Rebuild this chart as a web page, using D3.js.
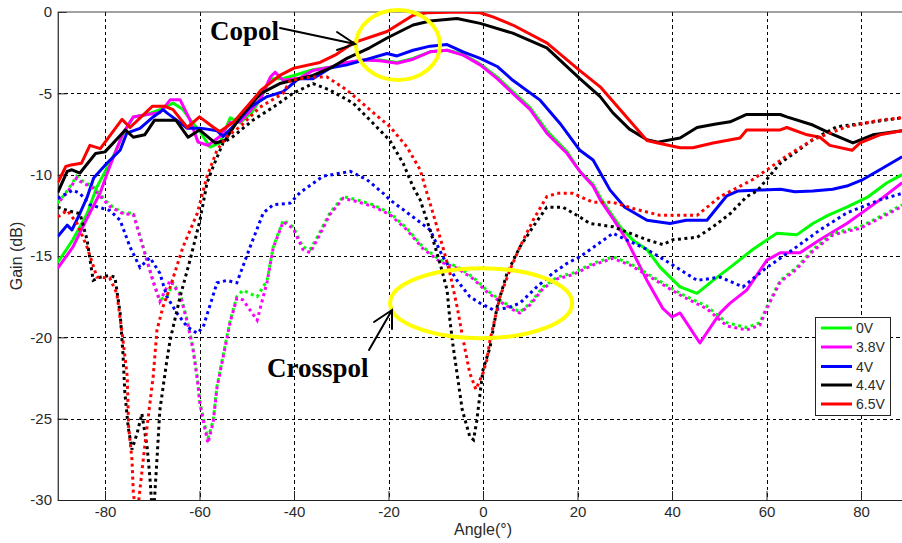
<!DOCTYPE html>
<html><head><meta charset="utf-8">
<script src="https://cdn.jsdelivr.net/npm/d3@7/dist/d3.min.js"></script>
<style>body{margin:0;background:#fff;} svg{display:block;}</style>
</head><body><svg id="c" width="902" height="543"></svg>
<script>
const xTicks = [-80,-60,-40,-20,0,20,40,60,80];
const yTicks = [0,-5,-10,-15,-20,-25,-30];
const seriesNames = ["0V","3.8V","4V","4.4V","6.5V"];
const seriesColors = ["#00ff00","#ff00ff","#0000ff","#000000","#ff0000"];

// Copol (solid) [angle, gain]
const copol0V = [[-90,-15.4],[-86.8,-14],[-83.8,-12.4],[-81.7,-10.75],[-78.3,-8.9],[-76,-7.4],[-74,-6.45],[-71.1,-6.3],[-68.4,-6],[-65.6,-5.6],[-63.5,-6],[-61.5,-6.8],[-59.9,-7.35],[-57.8,-8.3],[-55.7,-8.05],[-53.5,-6.5],[-51.4,-6.8],[-49,-6.2],[-47,-5.3],[-45,-4.1],[-42.5,-4.1],[-40,-3.9],[-36,-3.55],[-32.4,-3.4],[-28.8,-3.15],[-25.4,-2.95],[-21.8,-2.95],[-18.2,-3.1],[-14.8,-2.85],[-11.2,-2.45],[-7.6,-2.35],[-4.2,-2.6],[-0.6,-3.2],[3,-4],[6.3,-4.9],[10,-5.9],[13.5,-7.3],[17.8,-8.6],[20.5,-9.8],[23.3,-10.6],[25,-11.5],[29,-13.2],[32,-14.1],[34.7,-14.6],[37.5,-15.7],[41.7,-16.9],[45.3,-17.3],[48.7,-16.5],[52.3,-15.7],[57.1,-14.6],[62.2,-13.6],[66.4,-13.7],[69.8,-13],[73,-12.5],[77,-12],[81.3,-11.4],[85.5,-10.5],[88.7,-10]];
const copol38V = [[-90,-15.75],[-86.8,-14.45],[-84,-12.8],[-81,-11.1],[-79,-9.5],[-76.2,-7.45],[-74,-6.45],[-71.1,-6.3],[-68.4,-6.2],[-66.2,-5.4],[-64.1,-5.4],[-62,-6.65],[-60.3,-8],[-58.2,-8.2],[-55.7,-7.65],[-53.5,-6.8],[-51.4,-6.75],[-47.2,-5.4],[-45,-4],[-44,-3.7],[-42.3,-4.2],[-38.7,-4.05],[-36,-3.6],[-32.4,-3.4],[-28.8,-3.1],[-25.4,-2.95],[-21.8,-3.0],[-18.2,-3.15],[-14.8,-2.9],[-11.2,-2.45],[-7.6,-2.35],[-4.2,-2.65],[-0.6,-3.25],[3,-4.1],[6.3,-5],[10,-6],[13.5,-7.45],[17.8,-8.7],[20.5,-9.8],[23.3,-10.7],[24.8,-11.55],[27.5,-12.7],[30.4,-14],[34.7,-16.5],[38,-18.2],[40,-18.75],[41.7,-18.5],[45.9,-20.35],[50.2,-18.5],[52.3,-17.9],[55.8,-17.1],[60.1,-15.25],[62.9,-14.8],[67.1,-14.8],[71.3,-14],[77,-13],[84,-11.55],[88.7,-10.5]];
const copol4V = [[-90,-13.8],[-88,-13.1],[-87,-13.4],[-85.5,-12.5],[-83.8,-11.4],[-82.4,-10.2],[-79.6,-9.3],[-76.8,-8.5],[-75.4,-7.45],[-72.6,-7.15],[-69.8,-6.45],[-67.7,-6],[-66.9,-6.2],[-64.1,-6.8],[-62.6,-7.15],[-59.9,-7.15],[-58.4,-7.2],[-56.3,-7.3],[-55,-7.65],[-52.9,-7.05],[-49.3,-5.85],[-45.7,-5.2],[-42.3,-4.9],[-39,-4.1],[-36,-4.1],[-32.4,-3.45],[-28.8,-3.25],[-23.9,-2.85],[-20.3,-2.55],[-18.2,-2.7],[-14.8,-2.35],[-11.2,-2.1],[-7.6,-2],[-4.2,-2.45],[-0.6,-2.85],[3,-3.35],[6.3,-4.2],[12,-5.4],[16.3,-6.85],[20.5,-8.5],[23.3,-9.1],[26.9,-10.95],[30,-12],[34.7,-12.8],[39.6,-13],[43,-12.8],[47.4,-12.8],[51.6,-11.3],[54,-11],[58.6,-10.95],[63,-10.9],[66,-11.05],[69.8,-11],[74,-10.9],[77,-10.7],[80.4,-10.3],[84,-9.7],[88.7,-8.9]];
const copol44V = [[-90,-11.1],[-88,-9.8],[-87,-9.7],[-85.3,-9.9],[-82,-8.7],[-80,-8.6],[-75.7,-7.25],[-74,-7.7],[-71.6,-7.55],[-69.5,-6.65],[-65,-6.65],[-62.4,-7.7],[-60,-7.25],[-56.7,-8.05],[-54.6,-7.9],[-51.4,-6.45],[-47,-5],[-43,-4.4],[-36,-3.9],[-32,-3.4],[-28.8,-2.85],[-24,-2.2],[-20.3,-1.6],[-14.8,-0.8],[-11.2,-0.55],[-5.5,-0.4],[-0.6,-0.7],[6.3,-1.3],[13.5,-2.2],[20.5,-4.1],[24.8,-5.2],[27.5,-6.2],[31,-7.2],[34.7,-7.85],[37,-8],[41.7,-7.75],[45.3,-7.1],[49,-6.9],[52.3,-6.75],[55.8,-6.3],[62.9,-6.3],[64.3,-6.45],[69.8,-6.95],[73.4,-7.45],[78.3,-8.05],[82.5,-7.55],[88.7,-7.3]];
const copol65V = [[-90,-10.5],[-88.3,-9.5],[-87.2,-9.4],[-85,-9.3],[-83.2,-8.2],[-81,-8.4],[-76.4,-6.6],[-74.7,-7.1],[-70,-5.8],[-67.3,-5.8],[-65.6,-6],[-62.6,-7.1],[-60,-6.45],[-57,-7.1],[-55.7,-7.35],[-52.9,-6.8],[-48.7,-5.4],[-47,-4.8],[-43,-3.9],[-40,-3.45],[-34.5,-3.1],[-31,-2.6],[-27.5,-1.9],[-20.3,-1.2],[-14.8,-0.2],[-11.9,-0.05],[-5,0],[-0.6,-0.05],[2.1,-0.3],[6.3,-0.8],[13.5,-1.9],[20.5,-3.6],[24.8,-4.6],[29,-6],[34.7,-7.9],[37,-8.05],[41.7,-8.35],[44.4,-8.35],[48.7,-8.05],[54.4,-7.75],[55.8,-7.25],[62.9,-7.25],[64.3,-7.1],[68.6,-7.55],[71.3,-7.7],[73.4,-8.2],[78.1,-8.5],[79.8,-8.05],[84,-7.55],[88.7,-7.3]];

// Crosspol (dotted) [angle, gain]
const cross0V = [[-90,-11.75],[-88,-11],[-86,-10.1],[-85.3,-10.3],[-82.5,-10.75],[-79,-11.85],[-76.2,-12.35],[-74,-12.35],[-71.9,-14.45],[-69.8,-16.5],[-68.4,-17.7],[-66.9,-17.5],[-65.6,-16.65],[-64.1,-17.3],[-62.6,-18.95],[-61.4,-20.6],[-60.5,-22.4],[-59.9,-24],[-58.8,-25.5],[-58.2,-26.2],[-57.1,-25.1],[-56.3,-23],[-55.2,-21.4],[-53.5,-18.95],[-52.1,-17.5],[-50.8,-17.1],[-47.8,-17.5],[-45.7,-16.5],[-44.4,-14.45],[-42.3,-12.8],[-40.2,-13.2],[-38.1,-14.45],[-36.6,-14.6],[-35.1,-13.85],[-32.4,-12.35],[-29.6,-11.35],[-26.7,-11.55],[-23.3,-11.85],[-19.7,-12.35],[-16.1,-13.3],[-12.7,-14.45],[-9.1,-15.25],[-5.5,-15.65],[-2.1,-16.3],[0.8,-17.1],[3.6,-17.7],[6.3,-18.2],[7.8,-18.45],[10,-17.9],[12.7,-16.9],[15.7,-16.3],[19,-16.05],[23.3,-15.45],[27.5,-15.05],[31.1,-15.45],[36,-16.3],[41.7,-17.3],[47.4,-18.1],[51.6,-19.1],[55.8,-19.4],[58.6,-19.1],[60.1,-18.1],[62.9,-16.5],[66.4,-15.7],[69.8,-14.6],[74.1,-13.6],[79.8,-13.2],[85.5,-12.35],[88.7,-11.85]];
const cross38V = [[-90,-11.75],[-88,-11.1],[-86,-10.2],[-85.3,-10.4],[-82.5,-10.85],[-79,-11.95],[-76.2,-12.4],[-74,-12.45],[-71.9,-14.5],[-69.8,-16.6],[-68.4,-17.8],[-66.2,-16.5],[-64.1,-17.4],[-62.6,-19.05],[-61.4,-20.7],[-60.5,-22.5],[-59.9,-24.1],[-58.8,-25.7],[-58.2,-26.5],[-57.1,-25.2],[-56.3,-23.1],[-55.2,-21.5],[-53.5,-19.05],[-52.1,-17.6],[-50.8,-17.7],[-47.8,-18.95],[-45.7,-16.6],[-44.4,-14.5],[-42.3,-12.9],[-40.2,-13.3],[-38.1,-14.6],[-36.6,-14.8],[-35.1,-14],[-32.4,-12.45],[-29.6,-11.45],[-26.7,-11.65],[-23.3,-11.95],[-19.7,-12.45],[-16.1,-13.4],[-12.7,-14.55],[-9.1,-15.35],[-5.5,-15.75],[-2.1,-16.4],[0.8,-17.2],[3.6,-17.8],[6.3,-18.3],[7.8,-18.5],[10,-18],[12.7,-17],[15.7,-16.4],[19,-16.15],[23.3,-15.55],[27.5,-15.15],[31.1,-15.55],[36,-16.4],[41.7,-17.4],[47.4,-18.25],[51.6,-19.3],[55.8,-19.55],[58.6,-19.25],[60.1,-18.2],[62.9,-16.6],[66.4,-15.8],[69.8,-14.7],[74.1,-13.7],[79.8,-13.3],[85.5,-12.45],[88.7,-11.95]];
const cross4V = [[-90,-11.45],[-86.8,-10.95],[-85.3,-11.15],[-83.2,-11.85],[-79,-12.2],[-76.8,-12.8],[-74.7,-14.45],[-72.6,-15.7],[-70.5,-15.1],[-68.4,-16.05],[-66.9,-17.5],[-64.8,-18.5],[-62.6,-19.35],[-60.5,-19.75],[-59.2,-19.35],[-56.3,-16.65],[-54.2,-16.5],[-52.1,-16.65],[-49.3,-14.45],[-46.5,-12.35],[-44.4,-11.85],[-40.8,-11.75],[-38.7,-11.1],[-33.9,-10.1],[-28.1,-9.8],[-24.6,-10.3],[-21.1,-11.15],[-19.7,-11.55],[-14.8,-12.6],[-11.2,-13.4],[-8.5,-15.05],[-5.5,-16.5],[-2.8,-17.5],[-0.6,-17.9],[2.1,-18.3],[5.1,-18.2],[7.8,-17.9],[11.4,-16.9],[14.8,-16.05],[17.8,-15.45],[20.5,-15.05],[22,-14.75],[27.5,-13.6],[31,-14.1],[34.7,-14.6],[39.6,-15.45],[45.3,-16.5],[50.2,-16.3],[55,-16.9],[60.1,-15.7],[65.6,-14.6],[71.3,-13.4],[77,-12.35],[84,-11.55],[88.7,-11.15]];
const cross44V = [[-90,-12],[-88,-12.2],[-85.3,-12.4],[-83.8,-14],[-82.5,-16.5],[-81,-16.3],[-79,-16.2],[-77.9,-16.3],[-76.8,-18.5],[-76.2,-21],[-75.8,-23.4],[-75.1,-25.5],[-74.3,-26.9],[-73.2,-25.9],[-72.2,-24.7],[-71.1,-26.7],[-70.5,-28.6],[-70.1,-30.3],[-69.6,-30.3],[-69,-27.5],[-68.4,-24.5],[-66.9,-21.4],[-66.2,-20.15],[-64.1,-17.5],[-62,-15.25],[-59.9,-12.8],[-58.4,-10.5],[-57.1,-9.5],[-55,-8.05],[-52.9,-7.65],[-48.7,-6.65],[-44.4,-5.85],[-40.2,-5],[-36,-4.4],[-32.4,-4.8],[-27.5,-5.6],[-23.9,-6.65],[-19.7,-7.9],[-16.9,-9.3],[-14.8,-10.75],[-13.3,-11.55],[-11.2,-13.4],[-9.1,-15.45],[-7.6,-17.1],[-7,-18.95],[-6.3,-20.6],[-5.5,-22.2],[-4.4,-24.45],[-2.8,-26.1],[-2,-26.3],[-1.3,-25.1],[-0.6,-23.4],[0,-22],[1.5,-20.6],[3,-18.1],[5.1,-16.05],[7.8,-14.45],[10.6,-13.2],[13.5,-12],[16.9,-12],[20.5,-12.6],[22.6,-13],[27.5,-13.2],[34.7,-14],[38.1,-14.3],[40.2,-14],[45.3,-13.85],[48.7,-13.2],[52.3,-12.4],[55.8,-11.35],[58,-11.0],[62.9,-9.3],[69.8,-7.85],[74.9,-7.05],[80.4,-6.85],[88.7,-6.5]];
const cross65V = [[-90,-12.6],[-88,-12.2],[-85.9,-13],[-83.8,-14.45],[-81.7,-16.3],[-79,-16.35],[-77.5,-17.3],[-76.2,-20.15],[-75.3,-22.4],[-75,-25.5],[-74.3,-27.5],[-74,-29.6],[-73.6,-30.4],[-73,-30.4],[-71.9,-27.5],[-71.1,-25.5],[-69.8,-22.4],[-69,-19.55],[-67.7,-18.1],[-66.2,-16.9],[-63.5,-14.45],[-60.5,-12.4],[-58.4,-10.1],[-56.3,-8.5],[-54.2,-7.65],[-51.4,-7.05],[-47.2,-5.85],[-42.3,-5],[-40.8,-4.2],[-36.6,-4],[-33,-4],[-28.8,-4.8],[-24.6,-5.85],[-19.7,-7.05],[-16.1,-8.3],[-13.3,-9.7],[-11.9,-11.1],[-10.6,-12.35],[-8.5,-14.45],[-7,-16.05],[-5.5,-18.1],[-4.2,-20.15],[-2.8,-22.2],[-1.5,-23.2],[0,-22.2],[0.8,-21.4],[1.5,-20.15],[3.6,-17.5],[5.7,-15.85],[7.8,-14.45],[10.6,-12.8],[13.5,-11.35],[15.7,-11.15],[19,-11.15],[23.3,-11.7],[27.5,-11.7],[32,-12.1],[37.5,-12.5],[45.3,-12.5],[50.2,-11.35],[57.1,-10.3],[60.1,-9.7],[64,-8.9],[69.8,-7.85],[77,-7.05],[84,-6.65],[88.7,-6.5]];

const copolSeries = [copol0V, copol38V, copol4V, copol44V, copol65V];
const crossSeries = [cross0V, cross38V, cross4V, cross44V, cross65V];

const svg = d3.select("#c");
const W = 902, H = 543;
const x = d3.scaleLinear().domain([-90, 90]).range([57.75, 908.25]);
const y = d3.scaleLinear().domain([-30, 0]).range([500, 12]);
const x0 = x.range()[0], x1 = x.range()[1], yT = y.range()[1], yB = y.range()[0];

svg.append("rect").attr("width", W).attr("height", H).attr("fill", "#fff");
svg.append("defs").append("clipPath").attr("id", "clip")
  .append("rect").attr("x", x0).attr("y", yT).attr("width", x1 - x0).attr("height", yB - yT);

// grid
const grid = svg.append("g").attr("stroke", "#000").attr("stroke-width", 1).attr("stroke-dasharray", "3.5,3").attr("shape-rendering", "crispEdges");
grid.selectAll(".gx").data(xTicks).join("line")
  .attr("x1", d => Math.round(x(d)) + 0.5).attr("x2", d => Math.round(x(d)) + 0.5).attr("y1", yT).attr("y2", yB);
grid.selectAll(".gy").data(yTicks.filter(d => d !== 0 && d !== -30)).join("line")
  .attr("y1", d => Math.round(y(d)) + 0.5).attr("y2", d => Math.round(y(d)) + 0.5).attr("x1", x0).attr("x2", x1);

// axes
const font = "'Liberation Sans', Arial, sans-serif";
const fmt = d => String(d);
const xAxis = d3.axisBottom(x).tickValues(xTicks).tickFormat(fmt).tickSizeInner(-9).tickSizeOuter(0).tickPadding(14);
const gx = svg.append("g").attr("transform", `translate(0,${yB})`).call(xAxis);
const yAxis = d3.axisLeft(y).tickValues(yTicks).tickFormat(fmt).tickSizeInner(-9).tickSizeOuter(0).tickPadding(14);
const gy = svg.append("g").attr("transform", `translate(${x0},0)`).call(yAxis);
[gx, gy].forEach(g => {
  g.select(".domain").attr("stroke", "#222").attr("stroke-width", 1.2);
  g.selectAll(".tick line").attr("stroke", "#222").attr("stroke-width", 1);
  g.selectAll(".tick text").attr("font-family", font).attr("font-size", 15).attr("fill", "#2a2a2a");
});
gx.selectAll(".tick text").attr("dy", "0.2em");
gy.selectAll(".tick text").attr("dx", "0.55em");
// top border
svg.append("line").attr("x1", x0).attr("x2", x1).attr("y1", yT).attr("y2", yT).attr("stroke", "#444").attr("stroke-width", 1.2);

// axis labels
svg.append("text").attr("x", x(0)).attr("y", 535).attr("text-anchor", "middle")
  .attr("font-family", font).attr("font-size", 16).attr("fill", "#2a2a2a").text("Angle(°)");
svg.append("text").attr("transform", `translate(22,${(yT + yB) / 2}) rotate(-90)`).attr("text-anchor", "middle")
  .attr("font-family", font).attr("font-size", 16).attr("fill", "#2a2a2a").text("Gain (dB)");

// lines
const line = d3.line().x(d => x(d[0])).y(d => y(d[1]));
const plot = svg.append("g").attr("clip-path", "url(#clip)");
copolSeries.forEach((s, i) => {
  plot.append("path").datum(s).attr("d", line).attr("fill", "none")
    .attr("stroke", seriesColors[i]).attr("stroke-width", 3).attr("stroke-linejoin", "round");
});
crossSeries.forEach((s, i) => {
  plot.append("path").datum(s).attr("d", line).attr("fill", "none")
    .attr("stroke", seriesColors[i]).attr("stroke-width", 3)
    .attr("stroke-dasharray", "3,3.5").attr("stroke-dashoffset", i === 1 ? 3.2 : 0);
});

// annotations
const yellow = "#ffff00";
svg.append("ellipse").attr("cx", x(-18)).attr("cy", y(-2.03)).attr("rx", 42).attr("ry", 35)
  .attr("fill", "none").attr("stroke", yellow).attr("stroke-width", 4);
svg.append("ellipse").attr("cx", x(-0.4)).attr("cy", y(-17.9)).attr("rx", 91).attr("ry", 35)
  .attr("fill", "none").attr("stroke", yellow).attr("stroke-width", 4);

const serif = "'Liberation Serif', 'Times New Roman', serif";
svg.append("text").attr("x", 210).attr("y", 40).attr("font-family", serif).attr("font-weight", "bold")
  .attr("font-size", 27).attr("fill", "#000").text("Copol");
svg.append("text").attr("x", 267).attr("y", 377).attr("font-family", serif).attr("font-weight", "bold")
  .attr("font-size", 27).attr("fill", "#000").text("Crosspol");

const arrows = svg.append("g").attr("stroke", "#000").attr("stroke-width", 2).attr("fill", "none").attr("stroke-linecap", "round");
arrows.append("path").attr("d", "M280,28 L355,44 M337,32 L355,44 L337,50");
arrows.append("path").attr("d", "M369,350 L392,310 M374,322 L392,310 L392,329");

// legend
const lg = svg.append("g");
lg.append("rect").attr("x", 815.5).attr("y", 317.5).attr("width", 75).attr("height", 98)
  .attr("fill", "#fff").attr("stroke", "#222").attr("stroke-width", 1);
const legY = [328, 347, 366.5, 385, 404];
seriesNames.forEach((n, i) => {
  lg.append("line").attr("x1", 821).attr("x2", 852).attr("y1", legY[i]).attr("y2", legY[i])
    .attr("stroke", seriesColors[i]).attr("stroke-width", 3);
  lg.append("text").attr("x", 856).attr("y", legY[i] + 5).attr("font-family", font).attr("font-size", 14)
    .attr("fill", "#2a2a2a").text(n);
});
</script>
</body></html>
